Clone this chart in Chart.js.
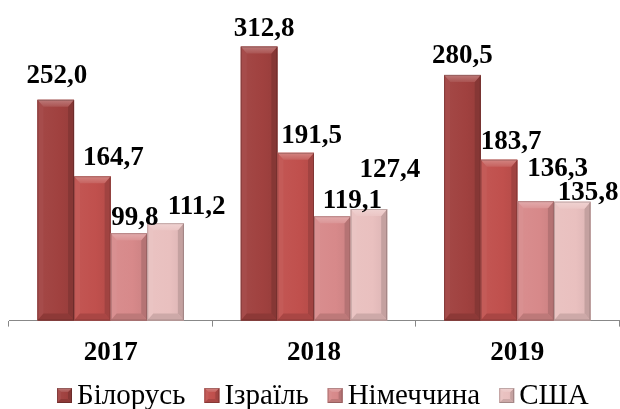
<!DOCTYPE html>
<html>
<head>
<meta charset="utf-8">
<script src="https://cdn.jsdelivr.net/npm/chart.js@4.4.0/dist/chart.umd.min.js"></script>
<style>
  html, body { margin: 0; padding: 0; background: #fff; }
</style>
</head>
<body>
<canvas id="chart" width="620" height="409"></canvas>
<script>
// values
const years = ["2017", "2018", "2019"];
const belarus = [252.0, 312.8, 280.5];
const israel = [164.7, 191.5, 183.7];
const germany = [99.8, 119.1, 136.3];
const usa = [111.2, 127.4, 135.8];
const seriesNames = ["Білорусь", "Ізраїль", "Німеччина", "США"];
const seriesColors = ["#A0413F", "#C0504D", "#D7898A", "#E9C0BF"];

const SERIF = '"Liberation Serif", "DejaVu Serif", "Times New Roman", serif';

// hand-placed label nudges like in the original: [dx, gap above bar top]
const labelNudge = [
  [[1, 17], [5, 11], [0, 12]],
  [[21, 11], [16, 10], [12, 11]],
  [[6, 8], [20, 8], [22, 25]],
  [[31, 9], [21, 32], [16, 2]],
];

function shade(hex, f) {
  const n = parseInt(hex.slice(1), 16);
  let r = (n >> 16) & 255, g = (n >> 8) & 255, b = n & 255;
  const t = f < 0 ? 0 : 255, p = Math.abs(f);
  r = Math.round(r + (t - r) * p);
  g = Math.round(g + (t - g) * p);
  b = Math.round(b + (t - b) * p);
  return `rgb(${r},${g},${b})`;
}

function poly(ctx, pts, fill) {
  ctx.beginPath();
  ctx.moveTo(pts[0][0], pts[0][1]);
  for (let i = 1; i < pts.length; i++) ctx.lineTo(pts[i][0], pts[i][1]);
  ctx.closePath();
  ctx.fillStyle = fill;
  ctx.fill();
}

// Excel-style bevelled block
function drawBevel(ctx, l, t, w, h, c, bt, bs) {
  const r = l + w, b = t + h;
  bt = Math.min(bt, h / 2);
  bs = Math.min(bs, w / 2);
  const g = ctx.createLinearGradient(l, 0, r, 0);
  g.addColorStop(0, shade(c, 0.04));
  g.addColorStop(0.6, c);
  g.addColorStop(1, shade(c, -0.06));
  ctx.fillStyle = g;
  ctx.fillRect(l, t, w, h);
  poly(ctx, [[l, t], [l + bs, t + bt], [l + bs, b - bt], [l, b]], shade(c, 0.06));
  poly(ctx, [[r, t], [r - bs, t + bt], [r - bs, b - bt], [r, b]], shade(c, -0.16));
  poly(ctx, [[l, b], [r, b], [r - bs, b - bt], [l + bs, b - bt]], shade(c, -0.12));
  const tg = ctx.createLinearGradient(0, t, 0, t + bt);
  tg.addColorStop(0, shade(c, 0.3));
  tg.addColorStop(1, shade(c, 0.1));
  poly(ctx, [[l, t], [r, t], [r - bs, t + bt], [l + bs, t + bt]], tg);
  ctx.strokeStyle = "rgba(0,0,0,0.2)";
  ctx.lineWidth = 1;
  ctx.strokeRect(l + 0.5, t + 0.5, w - 1, h - 1);
}

const bevelBars = {
  id: "bevelBars",
  afterDatasetsDraw(chart) {
    const ctx = chart.ctx;
    ctx.save();
    chart.data.datasets.forEach((ds, di) => {
      chart.getDatasetMeta(di).data.forEach((bar) => {
        const { x, y, base, width } = bar.getProps(["x", "y", "base", "width"], true);
        drawBevel(ctx, x - width / 2, y, width, base - y, ds.backgroundColor, 7, 6);
      });
    });
    // value labels
    ctx.font = "bold 27px " + SERIF;
    ctx.fillStyle = "#000";
    ctx.textAlign = "center";
    ctx.textBaseline = "alphabetic";
    chart.data.datasets.forEach((ds, di) => {
      chart.getDatasetMeta(di).data.forEach((bar, i) => {
        const [dx, gap] = labelNudge[di][i];
        const txt = ds.data[i].toFixed(1).replace(".", ",");
        ctx.fillText(txt, bar.x + dx, bar.y - gap);
      });
    });
    ctx.restore();
  },
};

const bevelLegend = {
  id: "bevelLegend",
  afterDraw(chart) {
    const ctx = chart.ctx;
    ctx.save();
    ctx.font = "29px " + SERIF;
    ctx.textBaseline = "alphabetic";
    ctx.textAlign = "left";
    let x = 57;
    chart.data.datasets.forEach((ds) => {
      drawBevel(ctx, x, 388, 15, 15, ds.backgroundColor, 4, 4);
      ctx.fillStyle = "#000";
      ctx.fillText(ds.label, x + 20, 404);
      x += 20 + ctx.measureText(ds.label).width + 19;
    });
    ctx.restore();
  },
};

const seriesValues = [belarus, israel, germany, usa];

new Chart(document.getElementById("chart"), {
  type: "bar",
  data: {
    labels: years,
    datasets: seriesNames.map((name, i) => ({
      label: name,
      data: seriesValues[i],
      backgroundColor: seriesColors[i],
      borderWidth: 0,
      barPercentage: 1,
      categoryPercentage: 0.72,
    })),
  },
  options: {
    responsive: false,
    animation: false,
    layout: { padding: { left: 9, right: 1, top: 14, bottom: 30 } },
    plugins: {
      legend: { display: false },
      tooltip: { enabled: false },
    },
    scales: {
      x: {
        grid: {
          display: true,
          drawOnChartArea: false,
          drawTicks: true,
          tickLength: 6,
          color: "#888",
        },
        border: { display: true, color: "#888" },
        ticks: {
          color: "#000",
          padding: 10,
          font: { family: SERIF, size: 27, weight: "bold" },
        },
      },
      y: {
        display: false,
        min: 0,
        max: 350,
      },
    },
  },
  plugins: [bevelBars, bevelLegend],
});
</script>
</body>
</html>
